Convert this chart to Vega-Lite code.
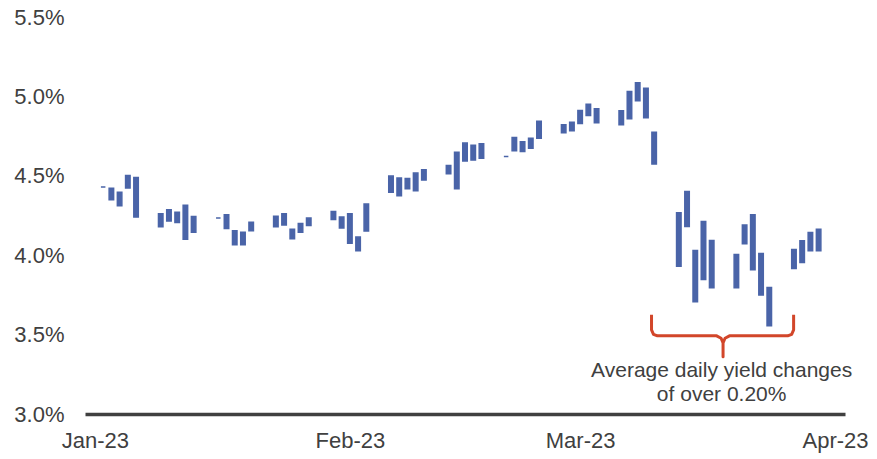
{
  "$schema": "https://vega.github.io/schema/vega-lite/v6.json",
  "width": 760,
  "height": 397,
  "autosize": {"type": "none"},
  "padding": {"left": 85, "top": 17, "right": 32, "bottom": 45},
  "background": "#ffffff",
  "config": {
    "view": {"stroke": null},
    "font": "Liberation Sans",
    "axis": {"grid": false, "labelFont": "Liberation Sans", "labelColor": "#404040", "titleFont": "Liberation Sans"}
  },
  "datasets": {
    "yields": [
      {"date": "2023-01-02", "low": 4.429, "high": 4.429},
      {"date": "2023-01-03", "low": 4.349, "high": 4.422},
      {"date": "2023-01-04", "low": 4.311, "high": 4.397},
      {"date": "2023-01-05", "low": 4.423, "high": 4.502},
      {"date": "2023-01-06", "low": 4.240, "high": 4.489},
      {"date": "2023-01-09", "low": 4.179, "high": 4.261},
      {"date": "2023-01-10", "low": 4.215, "high": 4.286},
      {"date": "2023-01-11", "low": 4.206, "high": 4.271},
      {"date": "2023-01-12", "low": 4.101, "high": 4.315},
      {"date": "2023-01-13", "low": 4.145, "high": 4.244},
      {"date": "2023-01-16", "low": 4.234, "high": 4.234},
      {"date": "2023-01-17", "low": 4.168, "high": 4.254},
      {"date": "2023-01-18", "low": 4.066, "high": 4.154},
      {"date": "2023-01-19", "low": 4.066, "high": 4.145},
      {"date": "2023-01-20", "low": 4.154, "high": 4.208},
      {"date": "2023-01-23", "low": 4.179, "high": 4.246},
      {"date": "2023-01-24", "low": 4.190, "high": 4.261},
      {"date": "2023-01-25", "low": 4.103, "high": 4.164},
      {"date": "2023-01-26", "low": 4.145, "high": 4.200},
      {"date": "2023-01-27", "low": 4.187, "high": 4.234},
      {"date": "2023-01-30", "low": 4.225, "high": 4.275},
      {"date": "2023-01-31", "low": 4.171, "high": 4.240},
      {"date": "2023-02-01", "low": 4.076, "high": 4.261},
      {"date": "2023-02-02", "low": 4.028, "high": 4.114},
      {"date": "2023-02-03", "low": 4.152, "high": 4.322},
      {"date": "2023-02-06", "low": 4.397, "high": 4.498},
      {"date": "2023-02-07", "low": 4.374, "high": 4.486},
      {"date": "2023-02-08", "low": 4.418, "high": 4.483},
      {"date": "2023-02-09", "low": 4.406, "high": 4.517},
      {"date": "2023-02-10", "low": 4.473, "high": 4.538},
      {"date": "2023-02-13", "low": 4.513, "high": 4.565},
      {"date": "2023-02-14", "low": 4.418, "high": 4.649},
      {"date": "2023-02-15", "low": 4.593, "high": 4.706},
      {"date": "2023-02-16", "low": 4.599, "high": 4.693},
      {"date": "2023-02-17", "low": 4.611, "high": 4.702},
      {"date": "2023-02-20", "low": 4.622, "high": 4.622},
      {"date": "2023-02-21", "low": 4.657, "high": 4.741},
      {"date": "2023-02-22", "low": 4.653, "high": 4.714},
      {"date": "2023-02-23", "low": 4.674, "high": 4.737},
      {"date": "2023-02-24", "low": 4.737, "high": 4.844},
      {"date": "2023-02-27", "low": 4.771, "high": 4.821},
      {"date": "2023-02-28", "low": 4.783, "high": 4.838},
      {"date": "2023-03-01", "low": 4.829, "high": 4.911},
      {"date": "2023-03-02", "low": 4.880, "high": 4.951},
      {"date": "2023-03-03", "low": 4.834, "high": 4.922},
      {"date": "2023-03-06", "low": 4.821, "high": 4.909},
      {"date": "2023-03-07", "low": 4.859, "high": 5.031},
      {"date": "2023-03-08", "low": 4.973, "high": 5.086},
      {"date": "2023-03-09", "low": 4.865, "high": 5.052},
      {"date": "2023-03-10", "low": 4.574, "high": 4.775},
      {"date": "2023-03-13", "low": 3.931, "high": 4.267},
      {"date": "2023-03-14", "low": 4.181, "high": 4.401},
      {"date": "2023-03-15", "low": 3.707, "high": 4.030},
      {"date": "2023-03-16", "low": 3.847, "high": 4.212},
      {"date": "2023-03-17", "low": 3.795, "high": 4.093},
      {"date": "2023-03-20", "low": 3.795, "high": 4.004},
      {"date": "2023-03-21", "low": 4.072, "high": 4.190},
      {"date": "2023-03-22", "low": 3.908, "high": 4.254},
      {"date": "2023-03-23", "low": 3.749, "high": 4.011},
      {"date": "2023-03-24", "low": 3.555, "high": 3.797},
      {"date": "2023-03-27", "low": 3.916, "high": 4.036},
      {"date": "2023-03-28", "low": 3.954, "high": 4.091},
      {"date": "2023-03-29", "low": 4.028, "high": 4.143},
      {"date": "2023-03-30", "low": 4.028, "high": 4.164}
    ],
    "brace": [
      {"i": 1, "date": "2023-03-09T16:20:00Z", "value": 3.625},
      {"i": 2, "date": "2023-03-09T16:20:00Z", "value": 3.530},
      {"i": 3, "date": "2023-03-09T22:05:00Z", "value": 3.502},
      {"i": 4, "date": "2023-03-10T09:36:00Z", "value": 3.492},
      {"i": 5, "date": "2023-03-17T14:24:00Z", "value": 3.492},
      {"i": 6, "date": "2023-03-18T03:22:00Z", "value": 3.477},
      {"i": 7, "date": "2023-03-18T09:07:00Z", "value": 3.448},
      {"i": 8, "date": "2023-03-18T09:07:00Z", "value": 3.360},
      {"i": 9, "date": "2023-03-18T09:07:00Z", "value": 3.448},
      {"i": 10, "date": "2023-03-18T14:53:00Z", "value": 3.477},
      {"i": 11, "date": "2023-03-19T03:50:00Z", "value": 3.492},
      {"i": 12, "date": "2023-03-26T05:46:00Z", "value": 3.492},
      {"i": 13, "date": "2023-03-26T17:17:00Z", "value": 3.502},
      {"i": 14, "date": "2023-03-26T23:02:00Z", "value": 3.530},
      {"i": 15, "date": "2023-03-26T23:02:00Z", "value": 3.625}
    ],
    "note": [
      {"date": "2023-03-18T05:00:00Z", "value": 3.232, "label": "Average daily yield changes"},
      {"date": "2023-03-18T05:00:00Z", "value": 3.079, "label": "of over 0.20%"}
    ]
  },
  "layer": [
    {
      "data": {"name": "yields"},
      "mark": {"type": "bar", "size": 4.5, "color": "#4A64A8", "stroke": "#4A64A8", "strokeWidth": 1.5},
      "encoding": {
        "x": {
          "field": "date", "type": "temporal", "title": null,
          "scale": {"type": "utc", "domain": [1672479360000, 1680359040000], "nice": false},
          "axis": {
            "values": [1672531200000, 1675209600000, 1677628800000, 1680307200000],
            "format": "%b-%y",
            "labelFontSize": 22,
            "labelPadding": 16,
            "ticks": false,
            "tickSize": 0,
            "domain": true,
            "domainColor": "#404040",
            "domainWidth": 3.5,
            "labelFlush": false,
            "labelOverlap": false
          }
        },
        "y": {
          "field": "low", "type": "quantitative", "title": null,
          "scale": {"domain": [3, 5.5], "nice": false, "zero": false},
          "axis": {
            "values": [3, 3.5, 4, 4.5, 5, 5.5],
            "labelExpr": "format(datum.value, '.1f') + '%'",
            "labelFontSize": 22,
            "labelPadding": 21,
            "ticks": false,
            "tickSize": 0,
            "domain": false
          }
        },
        "y2": {"field": "high"}
      }
    },
    {
      "data": {"name": "brace"},
      "mark": {"type": "line", "color": "#D2462A", "strokeWidth": 3, "strokeJoin": "round", "strokeCap": "butt"},
      "encoding": {
        "x": {"field": "date", "type": "temporal", "title": null},
        "y": {"field": "value", "type": "quantitative", "title": null},
        "order": {"field": "i", "type": "quantitative"}
      }
    },
    {
      "data": {"name": "note"},
      "mark": {"type": "text", "font": "Liberation Sans", "fontSize": 21, "color": "#404040", "align": "center", "baseline": "alphabetic"},
      "encoding": {
        "x": {"field": "date", "type": "temporal", "title": null},
        "y": {"field": "value", "type": "quantitative", "title": null},
        "text": {"field": "label"}
      }
    }
  ]
}
